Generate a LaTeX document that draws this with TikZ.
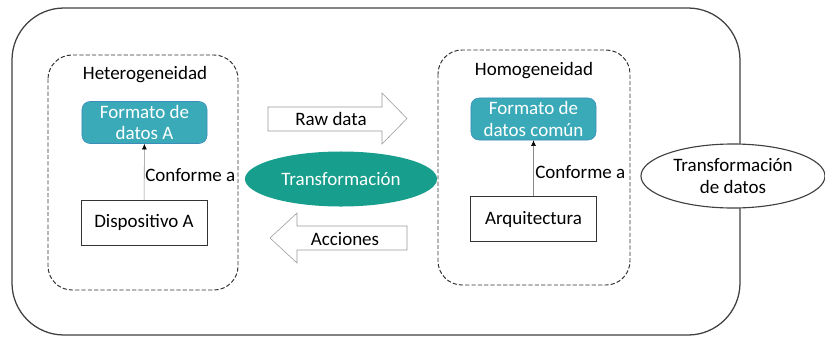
\documentclass[tikz,border=0pt]{standalone}
\usepackage{fontspec}
\setmainfont{Carlito}
\usetikzlibrary{positioning,shapes.geometric,arrows.meta}
\definecolor{formatofill}{RGB}{58,170,185}
\definecolor{formatoline}{RGB}{60,140,185}
\definecolor{transfill}{RGB}{23,158,140}

\tikzset{
  caja/.style={draw=black!80, fill=white, minimum width=3.15cm, minimum height=1.12cm},
  formato/.style={draw=formatoline, fill=formatofill, text=white, rounded corners=0.2cm,
    minimum width=3.125cm, minimum height=1.05cm, align=center, inner sep=0pt,
    font=\fontsize{13.5}{15.5}\selectfont},
  zona/.style={draw=black!80, line width=0.7pt, dash pattern=on 3pt off 1.5pt, rounded corners=0.6cm},
  flecha/.style={draw=black!40, fill=white},
  conforme/.style={draw=black!45, -{Latex[black,length=4pt,width=3.5pt]}}
}

\begin{document}
\begin{tikzpicture}[x=0.025cm, y=-0.025cm, font=\fontsize{13.5}{16}\selectfont]
\useasboundingbox (0,0) rectangle (825,337);

% marco exterior
\draw[black!75, line width=0.9pt, rounded corners=1.3cm] (12,8) rectangle (740,335);

% lado heterogeneo
\draw[zona] (48,55) rectangle (238,290);
\node (hetero) at (145,75) {Heterogeneidad};
\node[formato] (formatoA) at (144.5,122.5) {Formato de\\datos A};
\node[caja] (dispA) at (144,222.5) {Dispositivo A};
\draw[conforme] (dispA) -- (formatoA);
\node[anchor=west, inner sep=0pt] (confA) at (145,175) {Conforme a};

% lado homogeneo
\draw[zona] (438,50) rectangle (630,285);
\node (homo) at (534,71) {Homogeneidad};
\node[formato] (formatoC) at (533.5,119) {Formato de\\datos común};
\node[caja] (arq) at (533.5,219) {Arquitectura};
\draw[conforme] (arq) -- (formatoC);
\node[anchor=west, inner sep=0pt] (confC) at (535,172) {Conforme a};

% flechas
\draw[flecha] (268,107) -- (382,107) -- (382,93) -- (407,118.5) -- (382,144) -- (382,131) -- (268,131) -- cycle;
\node (rawdata) at (331,119) {Raw data};
\draw[flecha] (407,226) -- (297,226) -- (297,213) -- (270,238) -- (297,263) -- (297,250) -- (407,250) -- cycle;
\node (acciones) at (345,239) {Acciones};

\node[ellipse, fill=transfill, text=white, minimum width=4.8cm, minimum height=1.375cm, inner sep=0pt] (transf) at (341,179) {Transformación};

\node[ellipse, draw=black!75, fill=white, line width=0.8pt, minimum width=4.6cm, minimum height=1.6cm,
  inner sep=0pt, align=center] (transdatos) at (733,176) {Transformación\\de datos};
\end{tikzpicture}
\end{document}
